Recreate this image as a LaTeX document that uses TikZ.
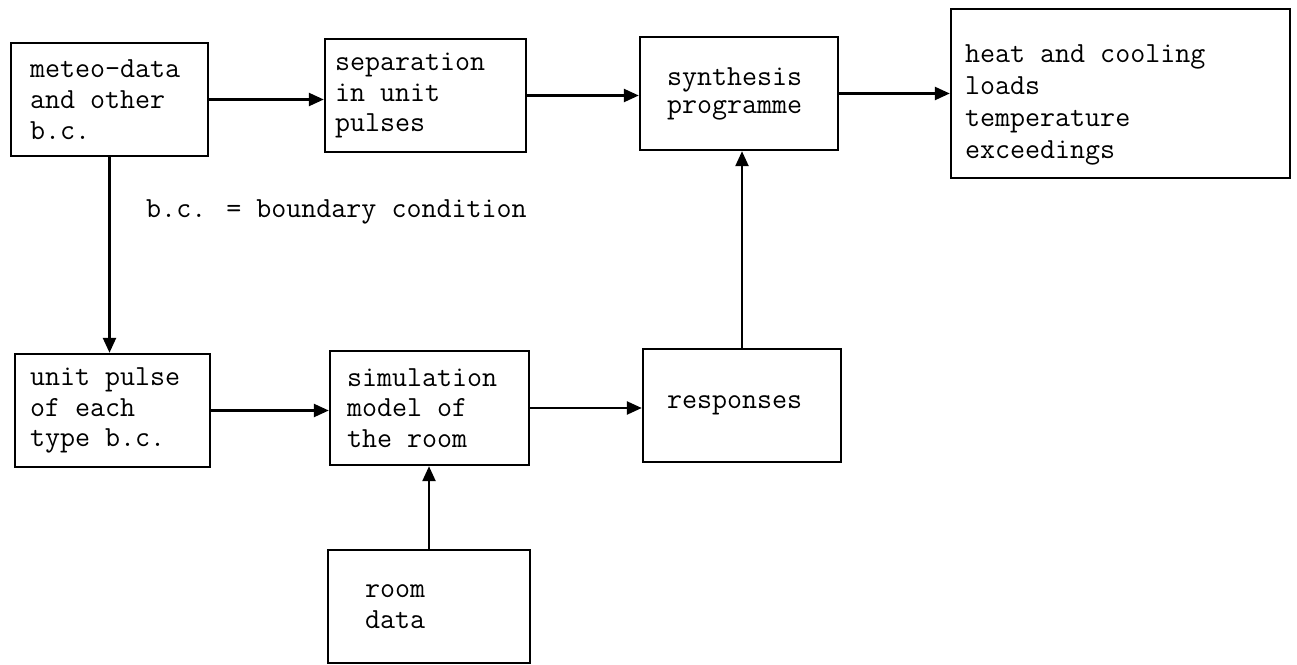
\documentclass[tikz,border=0pt]{standalone}
\usepackage{tikz}
\usetikzlibrary{arrows.meta, positioning}

\begin{document}
\begin{tikzpicture}[
      x=0.02cm, y=-0.02cm,
      every node/.style={font=\ttfamily\fontsize{16.6}{17.5}\selectfont},
      box/.style={rectangle, draw, line width=1.4pt, align=flush left, minimum height=2.26cm, inner ysep=0pt},
      arrow/.style={-{Triangle[length=0.3cm,width=0.26cm]}, line width=1.4pt}
    ]
      \useasboundingbox (0,0) rectangle (1297,665);
      % upper row
      \node[box, text width=3.18cm, inner xsep=0.38cm] (meteo) at (109.5,99.5) {meteo-data\\and other\\b.c.};
      \node[box, text width=3.62cm, inner xsep=0.2cm] (separation) at (425.5,95.5) {separation\\in unit\\pulses};
      \node[box, text width=2.88cm, inner xsep=0.54cm, font=\ttfamily\fontsize{16.6}{16}\selectfont] (synthesis) at (739,93.5) {synthesis\\programme\\[0.2cm]};
      \node[box, text width=6.22cm, inner xsep=0.28cm, minimum height=3.38cm, font=\ttfamily\fontsize{16.6}{18.2}\selectfont] (loads) at (1120.5,93.5) {\rule{0pt}{0.8cm}heat and cooling\\loads\\temperature\\exceedings};
      \node[anchor=base west] (note) at (140,218) {b.c. = boundary condition};
      % lower row
      \node[box, text width=3.3cm, inner xsep=0.3cm] (pulse) at (112.5,410.5) {unit pulse\\of each\\type b.c.};
      \node[box, text width=3.3cm, inner xsep=0.34cm, minimum height=2.28cm] (simulation) at (429.5,408) {simulation\\model of\\the room};
      \node[box, text width=3.0cm, inner xsep=0.48cm] (responses) at (742,405.5) {responses};
      \node[box, text width=2.56cm, inner xsep=0.74cm] (roomdata) at (429,606.5) {room\\data};
      % connectors
      \draw[arrow] (meteo.east) -- (meteo.east -| separation.west);
      \draw[arrow] (separation.east) -- (separation.east -| synthesis.west);
      \draw[arrow] (synthesis.east) -- (synthesis.east -| loads.west);
      \draw[arrow] (meteo.south) -- (meteo.south |- pulse.north);
      \draw[arrow] (pulse.east) -- (pulse.east -| simulation.west);
      \draw[arrow] (simulation.east) -- (simulation.east -| responses.west);
      \draw[arrow] (responses.north) -- (responses.north |- synthesis.south);
      \draw[arrow] (roomdata.north) -- (roomdata.north |- simulation.south);
    \end{tikzpicture}
\end{document}
